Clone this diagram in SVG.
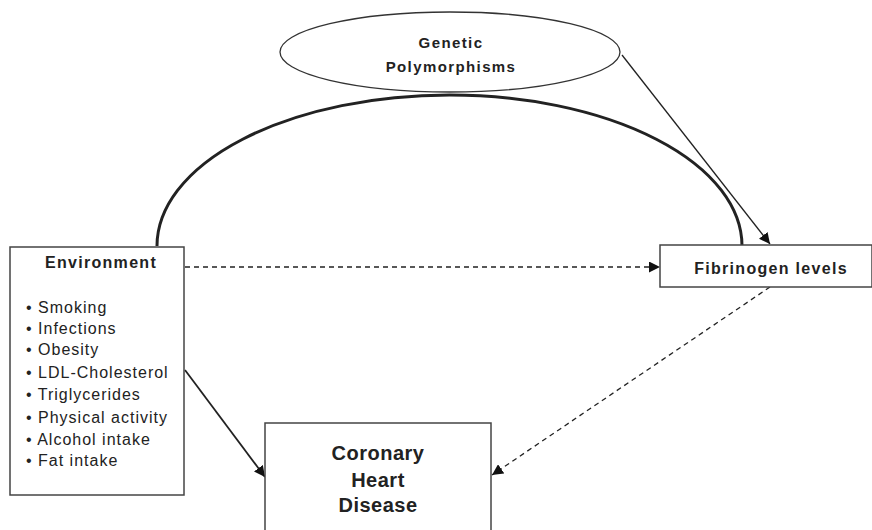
<svg xmlns="http://www.w3.org/2000/svg" width="872" height="530" viewBox="0 0 872 530">
<style>
.box{fill:#fff;stroke:#444;stroke-width:1.5}
.t{font-family:"Liberation Sans",Arial,sans-serif;fill:#222}
.b{font-weight:bold}
.ln{fill:none;stroke:#222;stroke-width:1.3}
.dash{stroke-dasharray:5,4}
</style>
<defs>
<marker id="ah" viewBox="0 0 10 10" refX="10" refY="5" markerWidth="11" markerHeight="11" markerUnits="userSpaceOnUse" orient="auto">
<path d="M0,0 L10,5 L0,10 z" fill="#111"/>
</marker>
</defs>
<g id="connectors">
<path class="ln" d="M157,246 A292.5,151 0 0 1 742,246" style="stroke-width:3"/>
<line class="ln" x1="622" y1="55" x2="770" y2="244" marker-end="url(#ah)"/>
<line class="ln dash" x1="185" y1="267" x2="660" y2="267" marker-end="url(#ah)"/>
<line class="ln" x1="185" y1="370" x2="265" y2="477" marker-end="url(#ah)" style="stroke-width:1.8"/>
<line class="ln dash" x1="770" y1="287" x2="492" y2="475" marker-end="url(#ah)"/>
</g>
<g id="genetic">
<ellipse cx="450" cy="52" rx="170" ry="40" fill="#fff" stroke="#333" stroke-width="1.3"/>
<text class="t b" x="451" y="48" font-size="15" letter-spacing="1.4" text-anchor="middle">Genetic</text>
<text class="t b" x="451" y="72" font-size="15" letter-spacing="1.4" text-anchor="middle">Polymorphisms</text>
</g>
<g id="environment">
<rect class="box" x="10" y="247" width="174" height="248"/>
<text class="t b" x="101" y="268" font-size="16" letter-spacing="1.3" text-anchor="middle">Environment</text>
<g class="t" font-size="16" letter-spacing="1">
<text x="26" y="313">• Smoking</text>
<text x="26" y="334">• Infections</text>
<text x="26" y="355">• Obesity</text>
<text x="26" y="378">• LDL-Cholesterol</text>
<text x="26" y="400">• Triglycerides</text>
<text x="26" y="423">• Physical activity</text>
<text x="26" y="445">• Alcohol intake</text>
<text x="26" y="466">• Fat intake</text>
</g>
</g>
<g id="fibrinogen">
<rect class="box" x="660" y="245" width="212" height="42"/>
<text class="t b" x="771" y="274" font-size="16" letter-spacing="1.3" text-anchor="middle">Fibrinogen levels</text>
</g>
<g id="chd">
<rect class="box" x="265" y="423" width="226" height="120"/>
<text class="t b" x="378" y="460" font-size="20" letter-spacing="0.5" text-anchor="middle">Coronary</text>
<text class="t b" x="378" y="487" font-size="20" letter-spacing="0.5" text-anchor="middle">Heart</text>
<text class="t b" x="378" y="512" font-size="20" letter-spacing="0.5" text-anchor="middle">Disease</text>
</g>
</svg>
